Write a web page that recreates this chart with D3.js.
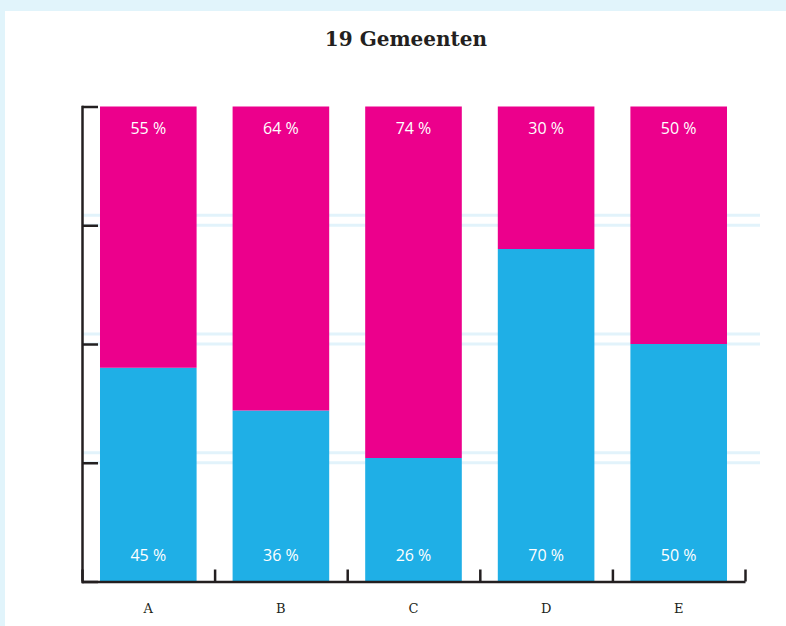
<!DOCTYPE html>
<html>
<head>
<meta charset="utf-8">
<script src="https://cdn.jsdelivr.net/npm/d3@7"></script>
<style>
	body { margin: 0; background: #e1f4fb; }
	svg { display: block; }
</style>
</head>
<body>
<script>
'use strict';

const categories = ["A", "B", "C", "D", "E"];
const blueValues = [45, 36, 26, 70, 50];
const pinkValues = [55, 64, 74, 30, 50];
const yTicks = [0, 25, 50, 75, 100];
const title = "19 Gemeenten";

const params = {
	width: 786,
	height: 626,
	left: 82,
	right: 745,
	top: 106.5,
	bottom: 581.5
};

const colors = { blue: "#1fafe6", pink: "#ec008c", axis: "#231f20", grid: "#e2f3fb" };

const svg = d3.select("body").append("svg")
	.attr("width", params.width)
	.attr("height", params.height);

// white panel over the light-blue background
svg.append("rect")
	.attr("x", 5).attr("y", 11)
	.attr("width", params.width - 5).attr("height", params.height - 11)
	.attr("fill", "#fff");

const xScale = d3.scaleBand()
	.domain(categories)
	.range([params.left, params.right])
	.paddingInner(0.2715)
	.paddingOuter(0.1357);

const yScale = d3.scaleLinear()
	.domain([0, 100])
	.range([params.bottom, params.top]);

// double gridlines
const grid = svg.append("g");
for (let t of yTicks.slice(1, 4)) {
	for (let off of [0, -10]) {
		grid.append("line")
			.attr("x1", params.left).attr("x2", 760)
			.attr("y1", yScale(t) + off).attr("y2", yScale(t) + off)
			.attr("stroke", colors.grid).attr("stroke-width", 3);
	}
}

const data = categories.map((c, i) => ({ cat: c, blue: blueValues[i], pink: pinkValues[i] }));

const bars = svg.append("g").selectAll("g")
	.data(data)
	.join("g");

bars.append("rect")
	.attr("x", d => xScale(d.cat))
	.attr("width", xScale.bandwidth())
	.attr("y", d => yScale(d.blue))
	.attr("height", d => yScale(0) - yScale(d.blue))
	.attr("fill", colors.blue);

bars.append("rect")
	.attr("x", d => xScale(d.cat))
	.attr("width", xScale.bandwidth())
	.attr("y", d => yScale(d.blue + d.pink))
	.attr("height", d => yScale(d.blue) - yScale(d.blue + d.pink))
	.attr("fill", colors.pink);

const labelFont = "'Open Sans', 'Noto Sans', sans-serif";

bars.append("text")
	.attr("x", d => xScale(d.cat) + xScale.bandwidth() / 2)
	.attr("y", params.top + 27)
	.attr("text-anchor", "middle")
	.attr("fill", "#fff")
	.style("font-family", labelFont)
	.style("font-size", "16px")
	.text(d => `${d.pink} %`);

bars.append("text")
	.attr("x", d => xScale(d.cat) + xScale.bandwidth() / 2)
	.attr("y", params.bottom - 21)
	.attr("text-anchor", "middle")
	.attr("fill", "#fff")
	.style("font-family", labelFont)
	.style("font-size", "16px")
	.text(d => `${d.blue} %`);

// y axis: ticks point into the plot
const yAxis = svg.append("g")
	.attr("transform", `translate(${params.left},0)`)
	.call(d3.axisRight(yScale).tickValues(yTicks).tickSize(16).tickSizeOuter(0).tickFormat(""));

// x axis: ticks at band edges, pointing up
const edges = categories.map(c => xScale(c) - xScale.step() * xScale.paddingOuter())
	.concat([params.right]);
const xEdge = d3.scaleLinear().domain([params.left, params.right]).range([params.left, params.right]);
const xAxis = svg.append("g")
	.attr("transform", `translate(0,${params.bottom})`)
	.call(d3.axisTop(xEdge).tickValues(edges).tickSize(12).tickSizeOuter(0).tickFormat(""));

for (let ax of [yAxis, xAxis]) {
	ax.selectAll("path, line")
		.attr("stroke", colors.axis)
		.attr("stroke-width", 2.5);
}
yAxis.select("path").attr("stroke-linecap", "square");

// category labels
svg.append("g").selectAll("text")
	.data(categories)
	.join("text")
	.attr("x", d => xScale(d) + xScale.bandwidth() / 2)
	.attr("y", 613)
	.attr("text-anchor", "middle")
	.attr("fill", "#231f20")
	.style("font-family", "'DejaVu Serif', serif")
	.style("font-size", "13px")
	.text(d => d);

svg.append("text")
	.attr("x", 406)
	.attr("y", 46)
	.attr("text-anchor", "middle")
	.attr("fill", "#231f20")
	.style("font-family", "'DejaVu Serif', serif")
	.style("font-weight", "bold")
	.style("font-size", "20px")
	.text(title);
</script>
</body>
</html>
